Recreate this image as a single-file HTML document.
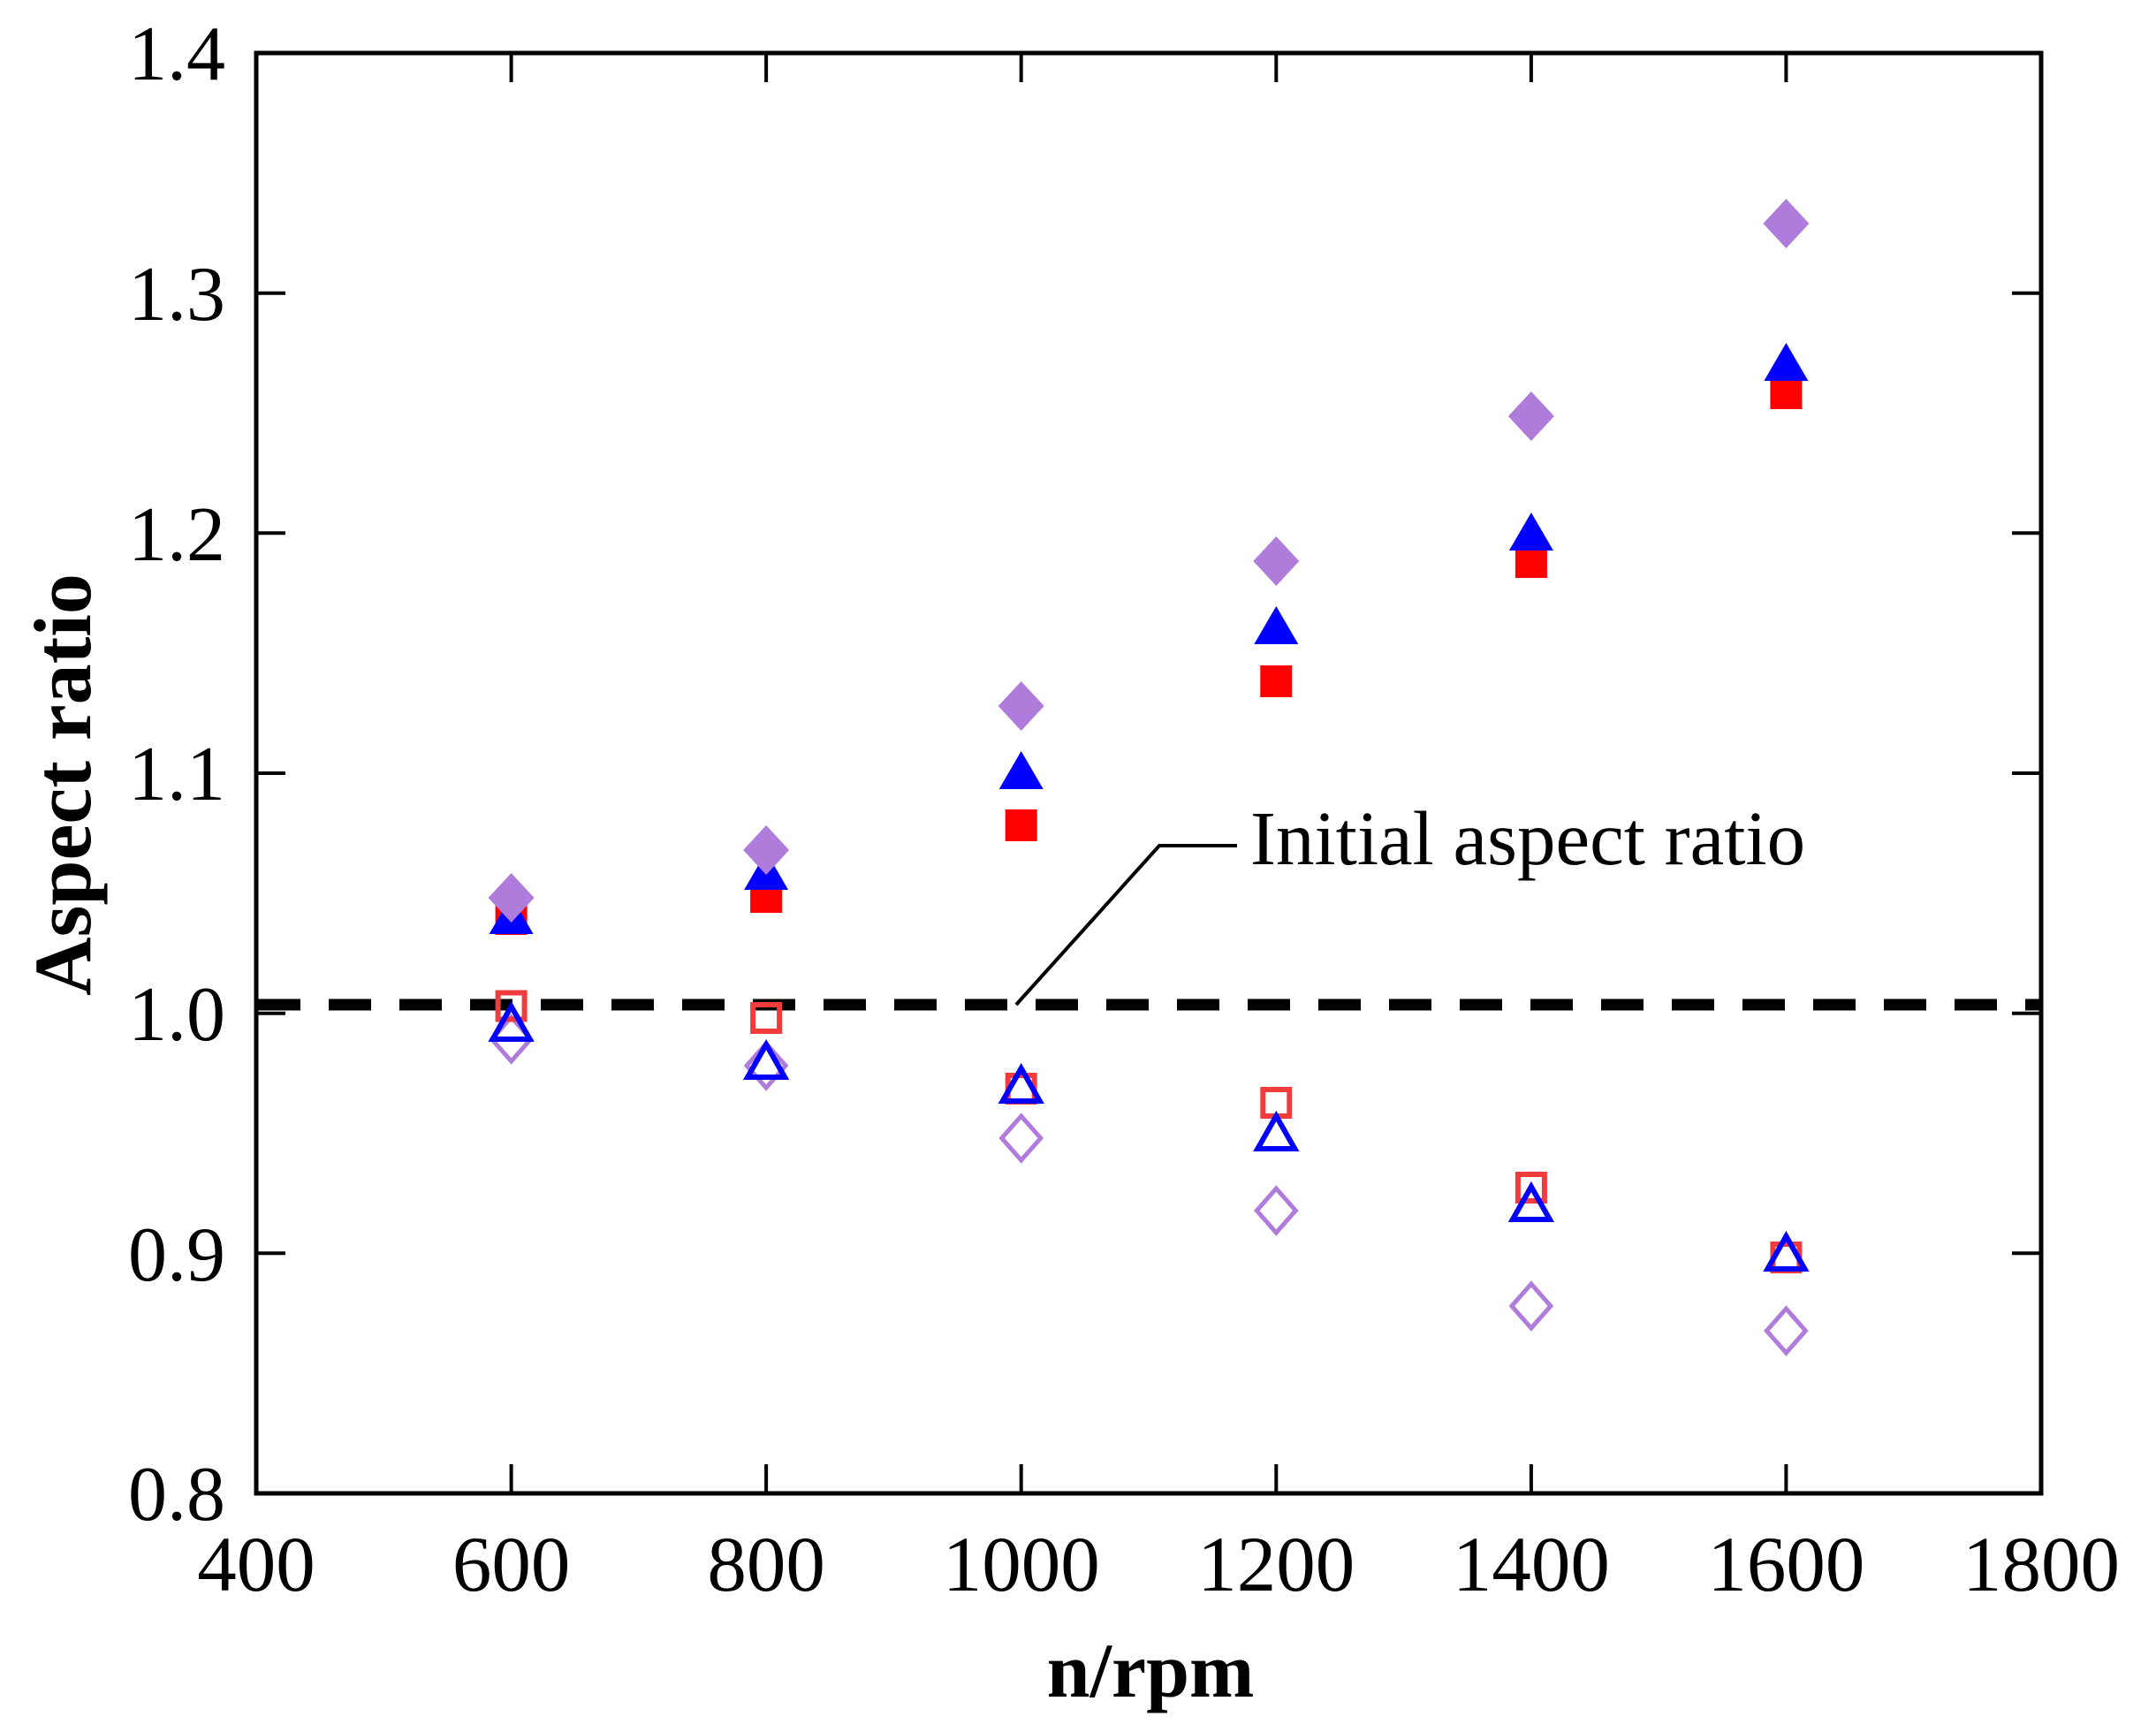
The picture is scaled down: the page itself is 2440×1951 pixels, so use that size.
<!DOCTYPE html>
<html><head><meta charset="utf-8"><style>
html,body{margin:0;padding:0;background:#fff;}
svg{display:block;}
text{font-family:"Liberation Serif",serif;fill:#000;}
</style></head><body>
<svg width="2440" height="1951" viewBox="0 0 2440 1951" xmlns="http://www.w3.org/2000/svg">
<defs>
<rect id="fs" x="-18" y="-18" width="36" height="36" fill="#ff0000"/>
<polygon id="ft" points="0,-26 25,17 -25,17" fill="#0000ff"/>
<polygon id="fd" points="0,-28 26,0 0,28 -26,0" fill="#b07cdc"/>
<rect id="os" x="-15" y="-15" width="30" height="30" fill="none" stroke="#f03c3c" stroke-width="6"/>
<polygon id="ot" points="0,-23 21,14 -21,14" fill="none" stroke="#0000ff" stroke-width="6"/>
<polygon id="od" points="0,-25 22,0 0,25 -22,0" fill="none" stroke="#b07cdc" stroke-width="5"/>
</defs>
<rect x="290" y="60" width="2020" height="1630" fill="none" stroke="#000" stroke-width="5"/>
<g stroke="#000" stroke-width="4">
<line x1="290" y1="331.7" x2="323" y2="331.7"/><line x1="290" y1="603.3" x2="323" y2="603.3"/>
<line x1="290" y1="875" x2="323" y2="875"/><line x1="290" y1="1146.7" x2="323" y2="1146.7"/>
<line x1="290" y1="1418.3" x2="323" y2="1418.3"/>
<line x1="2310" y1="331.7" x2="2277" y2="331.7"/><line x1="2310" y1="603.3" x2="2277" y2="603.3"/>
<line x1="2310" y1="875" x2="2277" y2="875"/><line x1="2310" y1="1146.7" x2="2277" y2="1146.7"/>
<line x1="2310" y1="1418.3" x2="2277" y2="1418.3"/>
<line x1="578.6" y1="1690" x2="578.6" y2="1657"/><line x1="867.1" y1="1690" x2="867.1" y2="1657"/>
<line x1="1155.7" y1="1690" x2="1155.7" y2="1657"/><line x1="1444.3" y1="1690" x2="1444.3" y2="1657"/>
<line x1="1732.9" y1="1690" x2="1732.9" y2="1657"/><line x1="2021.4" y1="1690" x2="2021.4" y2="1657"/>
<line x1="578.6" y1="60" x2="578.6" y2="93"/><line x1="867.1" y1="60" x2="867.1" y2="93"/>
<line x1="1155.7" y1="60" x2="1155.7" y2="93"/><line x1="1444.3" y1="60" x2="1444.3" y2="93"/>
<line x1="1732.9" y1="60" x2="1732.9" y2="93"/><line x1="2021.4" y1="60" x2="2021.4" y2="93"/>
</g>
<g font-size="88" text-anchor="end">
<text x="255" y="90">1.4</text><text x="255" y="362">1.3</text>
<text x="255" y="634">1.2</text><text x="255" y="905">1.1</text>
<text x="255" y="1177">1.0</text><text x="255" y="1449">0.9</text>
<text x="255" y="1720">0.8</text>
</g>
<g font-size="89" text-anchor="middle">
<text x="290" y="1800">400</text><text x="578.6" y="1800">600</text>
<text x="867.1" y="1800">800</text><text x="1155.7" y="1800">1000</text>
<text x="1444.3" y="1800">1200</text><text x="1732.9" y="1800">1400</text>
<text x="2021.4" y="1800">1600</text><text x="2310" y="1800">1800</text>
</g>
<text x="1302" y="1920" font-size="88" font-weight="bold" text-anchor="middle">n/rpm</text>
<text transform="translate(102,888) rotate(-90)" font-size="92" font-weight="bold" text-anchor="middle">Aspect ratio</text>
<line x1="292" y1="1137" x2="2308" y2="1137" stroke="#000" stroke-width="13" stroke-dasharray="48,32"/>
<polyline points="1150,1137 1312,957 1400,957" fill="none" stroke="#000" stroke-width="4"/>
<text x="1415" y="978" font-size="87" fill="#222">Initial aspect ratio</text>
<use href="#od" x="578.6" y="1176"/><use href="#od" x="867.1" y="1206"/><use href="#od" x="1155.7" y="1288"/>
<use href="#od" x="1444.3" y="1370"/><use href="#od" x="1732.9" y="1478"/><use href="#od" x="2021.4" y="1506"/>
<use href="#os" x="578.6" y="1138.5"/><use href="#os" x="867.1" y="1152"/><use href="#os" x="1155.7" y="1232"/>
<use href="#os" x="1444.3" y="1248"/><use href="#os" x="1732.9" y="1344"/><use href="#os" x="2021.4" y="1423"/>
<use href="#ot" x="578.6" y="1162"/><use href="#ot" x="867.1" y="1205"/><use href="#ot" x="1155.7" y="1232"/>
<use href="#ot" x="1444.3" y="1286"/><use href="#ot" x="1732.9" y="1366"/><use href="#ot" x="2021.4" y="1422"/>
<use href="#fs" x="578.6" y="1040"/><use href="#fs" x="867.1" y="1015"/><use href="#fs" x="1155.7" y="934"/>
<use href="#fs" x="1444.3" y="771"/><use href="#fs" x="1732.9" y="636"/><use href="#fs" x="2021.4" y="445"/>
<use href="#ft" x="578.6" y="1040"/><use href="#ft" x="867.1" y="990"/><use href="#ft" x="1155.7" y="876"/>
<use href="#ft" x="1444.3" y="712"/><use href="#ft" x="1732.9" y="606"/><use href="#ft" x="2021.4" y="414"/>
<use href="#fd" x="578.6" y="1016"/><use href="#fd" x="867.1" y="962"/><use href="#fd" x="1155.7" y="799"/>
<use href="#fd" x="1444.3" y="635"/><use href="#fd" x="1732.9" y="471"/><use href="#fd" x="2021.4" y="253"/>
</svg>
</body></html>
